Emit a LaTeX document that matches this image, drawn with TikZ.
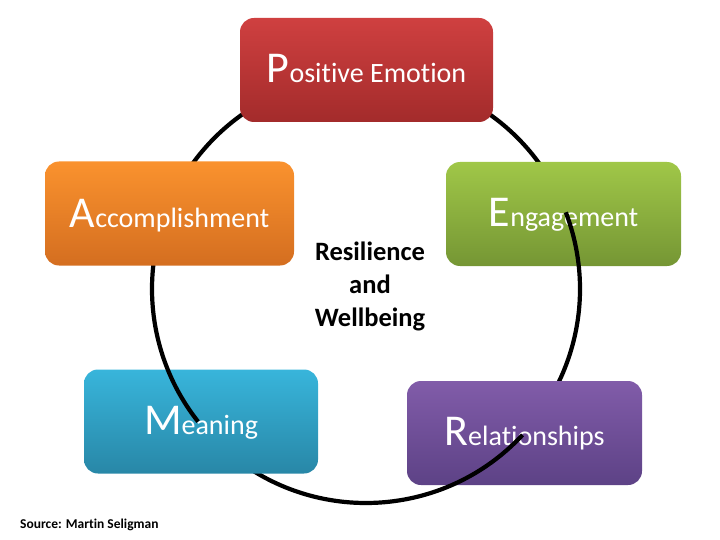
\documentclass[tikz,border=0pt]{standalone}
\usepackage{fontspec}
\setmainfont{Carlito}[Ligatures={NoCommon}]
\definecolor{peT}{RGB}{207,64,64}
\definecolor{peB}{RGB}{163,43,43}
\definecolor{acT}{RGB}{250,146,46}
\definecolor{acB}{RGB}{212,110,32}
\definecolor{enT}{RGB}{160,199,72}
\definecolor{enB}{RGB}{117,150,52}
\definecolor{meT}{RGB}{56,181,219}
\definecolor{meB}{RGB}{40,135,167}
\definecolor{reT}{RGB}{129,92,169}
\definecolor{reB}{RGB}{93,66,134}
\newcommand\firstcap[1]{{\fontsize{44}{50}\selectfont #1}}
\begin{document}
\begin{tikzpicture}[x=1pt,y=-1pt,
  box/.style={draw=none, rounded corners=14pt, inner sep=0pt,
              minimum width=#1, minimum height=104pt},
  cyc/.style={line width=4.2pt, black},
  lbl/.style={anchor=base, text=white, inner sep=0pt,
              font=\fontsize{28}{34}\selectfont},
]
\useasboundingbox (0,0) rectangle (720,540);
\coordinate (c) at (366,289);
\def\R{214}
% arcs hidden partly behind boxes
\draw[cyc] (c) ++(-110:\R) arc[start angle=-110, end angle=-150, radius=\R];
\draw[cyc] (c) ++(-30:\R) arc[start angle=-30, end angle=-70, radius=\R];
% Engagement
\node[box=235pt, top color=enT, bottom color=enB] (enBox) at (563.5,214) {};
\node[lbl] (en) at (563.5,226) {\firstcap{E}ngagement};
\draw[cyc] (c) ++(35:\R) arc[start angle=35, end angle=-21, radius=\R];
% Relationships
\node[box=235pt, top color=reT, bottom color=reB] (reBox) at (524.5,433) {};
\node[lbl] (re) at (524.5,445) {\firstcap{R}elationships};
\draw[cyc] (c) ++(-230:\R) arc[start angle=-230, end angle=-317, radius=\R];
% Meaning
\node[box=234pt, top color=meT, bottom color=meB] (meBox) at (201,421.5) {};
\node[lbl] (me) at (201,434) {\firstcap{M}eaning};
\draw[cyc] (c) ++(-165:\R) arc[start angle=-165, end angle=-218.3, radius=\R];
% Accomplishment
\node[box=249pt, top color=acT, bottom color=acB] (acBox) at (169.5,213.5) {};
\node[lbl] (ac) at (169.5,227) {\firstcap{A}ccomplishment};
% Positive Emotion
\node[box=253pt, top color=peT, bottom color=peB] (peBox) at (366.5,70) {};
\node[lbl] (pe) at (366.5,83) {\firstcap{P}ositive Emotion};
% centre text
\node[align=center, inner sep=0pt, font=\bfseries\fontsize{26.5}{33}\selectfont]
  (rw) at (370,286) {Resilience\\and\\Wellbeing};
\node[anchor=base west, inner sep=0pt, font=\bfseries\fontsize{13.5}{16}\selectfont]
  (src) at (20,528) {Source: Martin Seligman};
\end{tikzpicture}
\end{document}
